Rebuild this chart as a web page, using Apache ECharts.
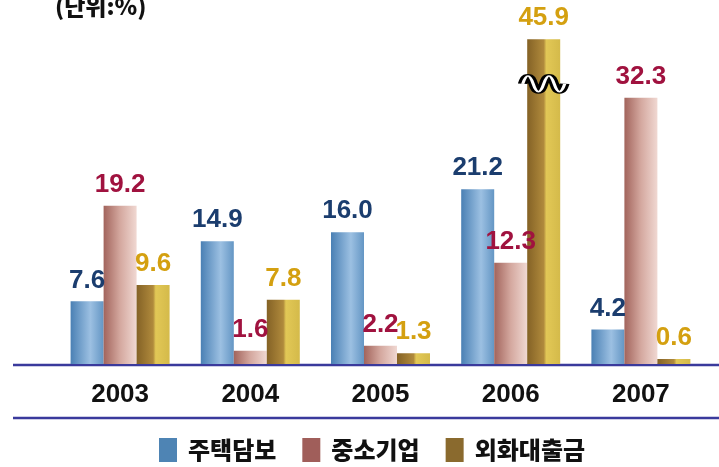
<!DOCTYPE html>
<html>
<head>
<meta charset="utf-8">
<script src="https://cdn.jsdelivr.net/npm/echarts@6/dist/echarts.min.js"></script>
<style>
  html, body { margin: 0; padding: 0; background: #fff; }
  #chart { width: 719px; height: 467px; }
</style>
</head>
<body>
<div id="chart"></div>
<script>
// 데이터
var years = ["2003", "2004", "2005", "2006", "2007"];
var housing = [7.6, 14.9, 16.0, 21.2, 4.2];   // 주택담보
var sme = [19.2, 1.6, 2.2, 12.3, 32.3];        // 중소기업
var foreign = [9.6, 7.8, 1.3, 45.9, 0.6];      // 외화대출금
var seriesNames = ["주택담보", "중소기업", "외화대출금"];

var chart = echarts.init(document.getElementById("chart"));

function hGrad(stops) {
  return new echarts.graphic.LinearGradient(0, 0, 1, 0, stops.map(function (s) {
    return { offset: s[0], color: s[1] };
  }));
}

function labelStyle(color) {
  return {
    show: true,
    position: "top",
    distance: 8,
    color: color,
    fontSize: 26,
    fontWeight: "bold",
    fontFamily: "Liberation Sans, Arial, sans-serif",
    formatter: function (p) { return p.value.toFixed(1); }
  };
}

var option = {
  animation: false,
  title: {
    text: "(단위:%)",
    left: 50,
    top: -10,
    textStyle: { fontSize: 23, fontWeight: 900, color: "#111", fontFamily: "Noto Sans CJK KR" }
  },
  grid: { left: 55, right: 13, top: 22, bottom: 103 },
  legend: {
    bottom: 0,
    left: 154,
    itemWidth: 18,
    itemHeight: 24,
    itemGap: 26,
    textStyle: {
      fontSize: 24,
      fontWeight: 900,
      color: "#111",
      fontFamily: "Noto Sans CJK KR",
      padding: [0, 0, 0, 6]
    },
    data: [
      { name: seriesNames[0], icon: "rect", itemStyle: { color: "#4e84b4" } },
      { name: seriesNames[1], icon: "rect", itemStyle: { color: "#a05e5a" } },
      { name: seriesNames[2], icon: "rect", itemStyle: { color: "#8a6a2e" } }
    ]
  },
  xAxis: {
    type: "category",
    data: years,
    axisLine: { show: false },
    axisTick: { show: false },
    axisLabel: {
      margin: 18,
      fontSize: 26,
      fontWeight: "bold",
      color: "#111",
      fontFamily: "Liberation Sans, Arial, sans-serif"
    }
  },
  yAxis: {
    type: "value",
    min: 0,
    max: 48,
    show: false,
    splitLine: { show: false },
    breaks: [{ start: 35, end: 41.5, gap: 0 }],
    breakArea: { show: false }
  },
  series: [
    {
      name: seriesNames[0],
      type: "bar",
      barWidth: 33,
      barGap: "0%",
      data: housing,
      itemStyle: { color: hGrad([[0, "#4a80b4"], [0.6, "#9cc0e2"], [1, "#6496c4"]]) },
      label: labelStyle("#1b3d6e")
    },
    {
      name: seriesNames[1],
      type: "bar",
      barWidth: 33,
      barGap: "0%",
      data: sme,
      itemStyle: { color: hGrad([[0, "#a2645c"], [0.5, "#d4a89f"], [1, "#f0d8d2"]]) },
      label: labelStyle("#a0123f")
    },
    {
      name: seriesNames[2],
      type: "bar",
      barWidth: 33,
      barGap: "0%",
      data: foreign,
      itemStyle: { color: hGrad([[0, "#846226"], [0.5, "#b08a3c"], [0.58, "#e2c856"], [1, "#d4ba4a"]]) },
      label: labelStyle("#d4a010"),
      markPoint: {
        silent: true,
        label: { show: false },
        symbol: "path://M0,8 Q5,0 10,8 T20,8 T30,8 T40,8",
        symbolSize: [42, 16],
        data: [
          { coord: ["2006", 34.0], itemStyle: { color: "none", borderColor: "#000", borderWidth: 6 } },
          { coord: ["2006", 34.0], itemStyle: { color: "none", borderColor: "#fff", borderWidth: 2 } }
        ]
      }
    }
  ],
  graphic: [
    { type: "line", shape: { x1: 13, y1: 365, x2: 719, y2: 365 }, style: { stroke: "#3a3a9c", lineWidth: 2.5 } },
    { type: "line", shape: { x1: 13, y1: 418, x2: 719, y2: 418 }, style: { stroke: "#3a3a9c", lineWidth: 2.5 } }
  ]
};

chart.setOption(option);
</script>
</body>
</html>
